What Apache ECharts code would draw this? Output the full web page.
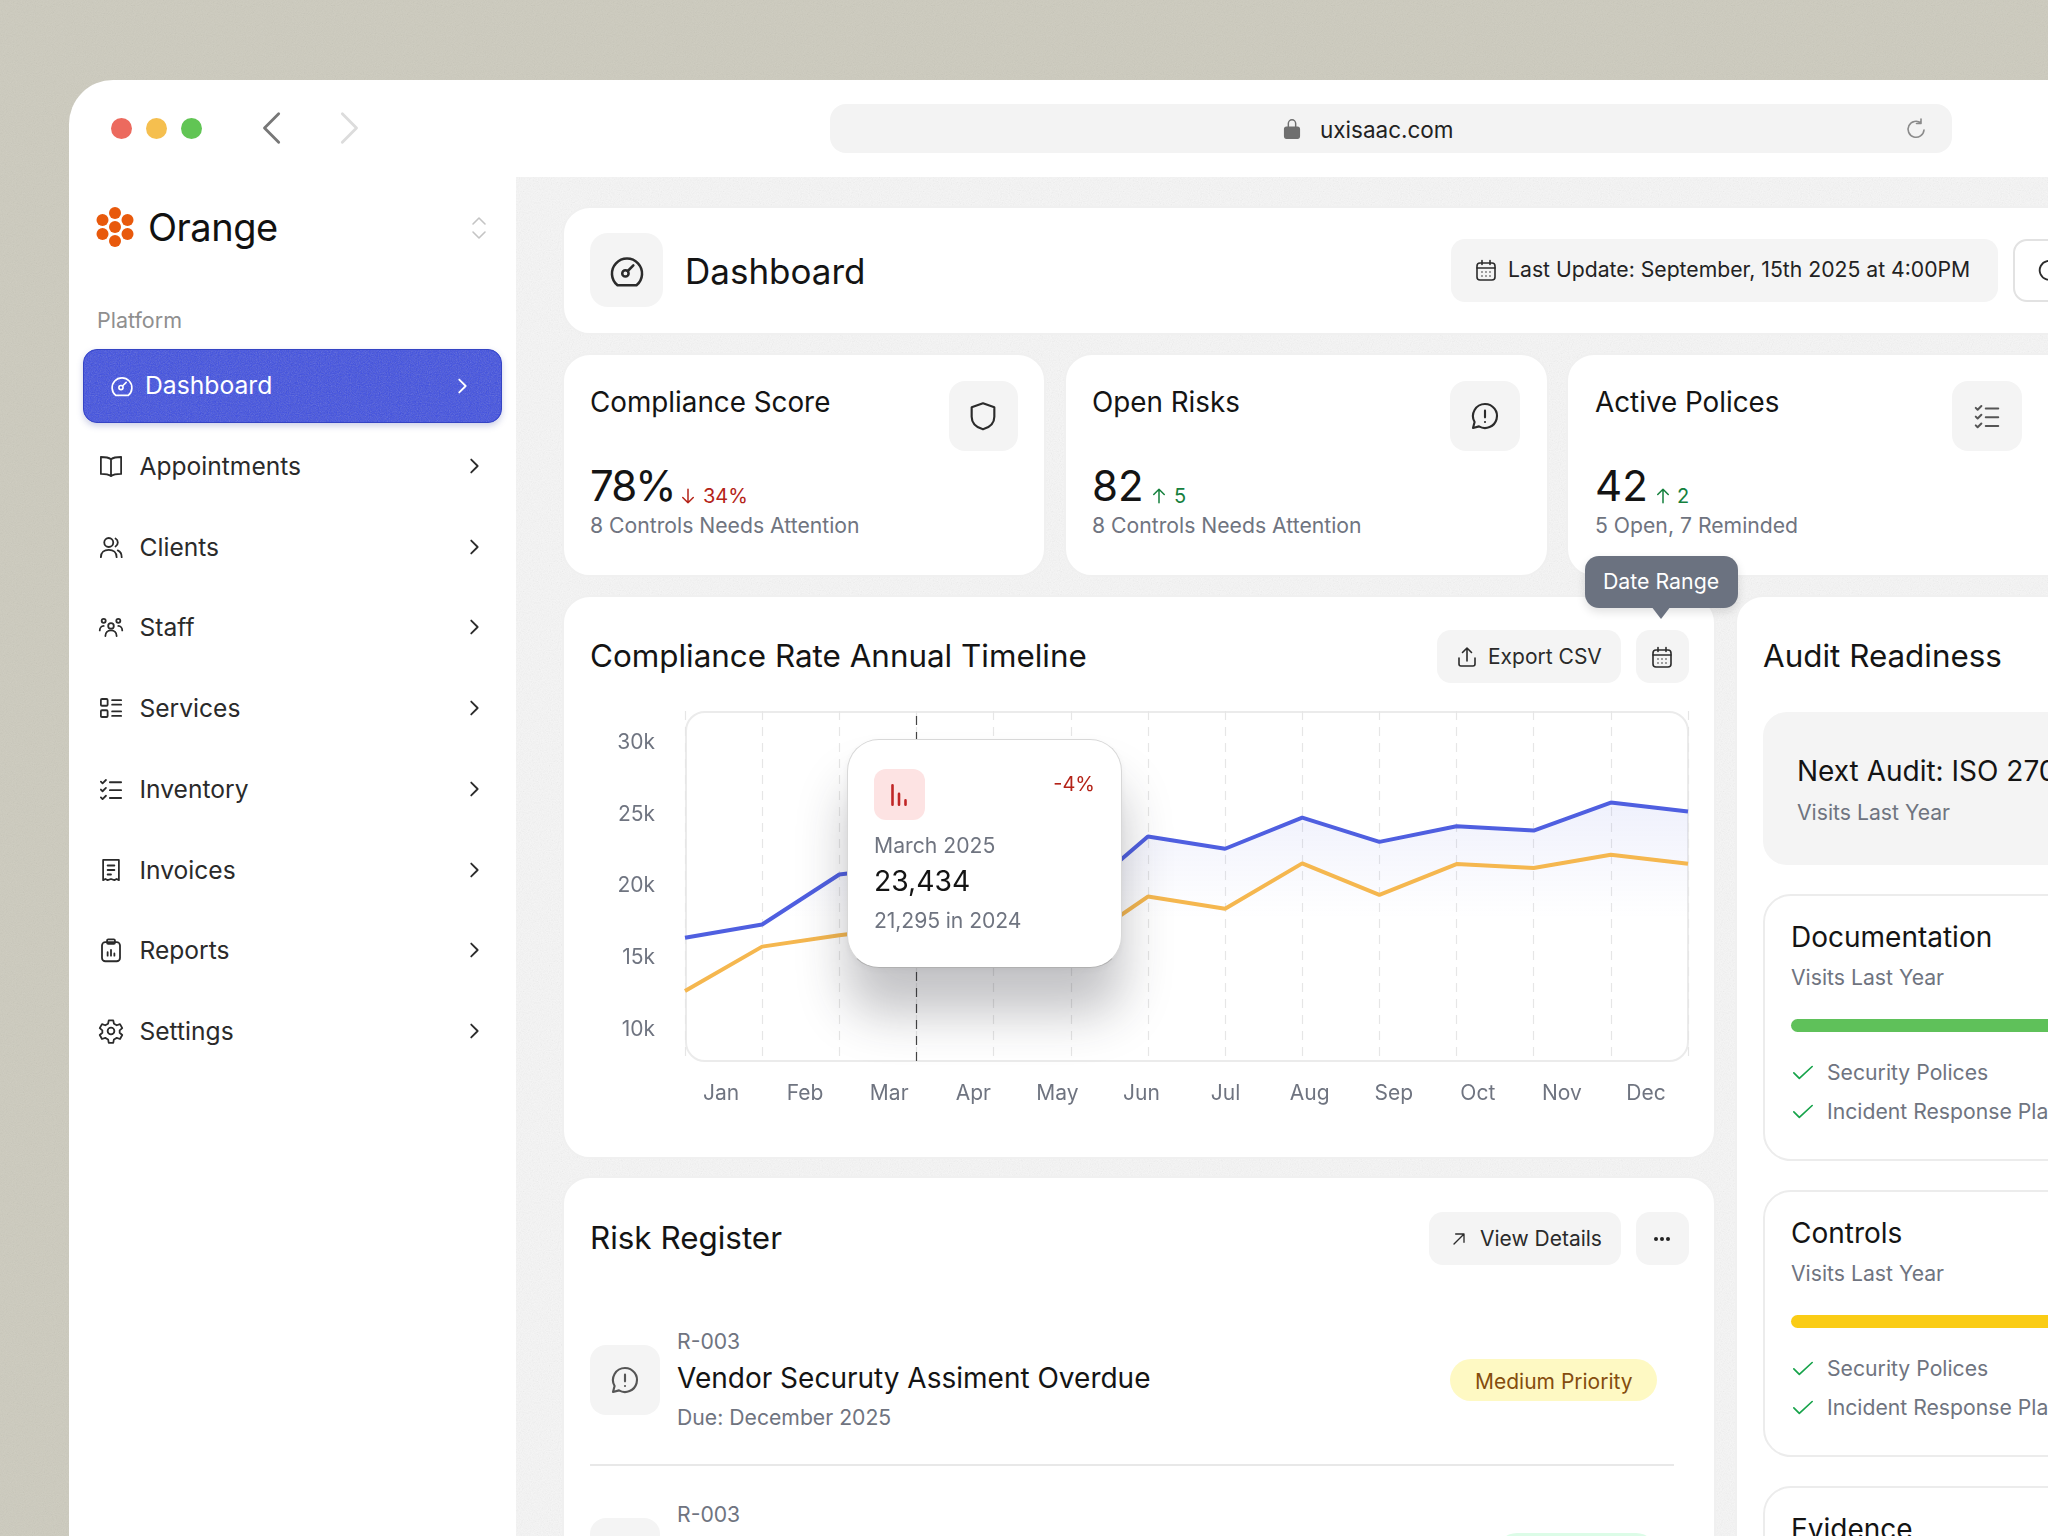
<!DOCTYPE html>
<html>
<head>
<title>Dashboard</title>
<meta charset="UTF-8">
<script src="https://cdn.jsdelivr.net/npm/echarts@6/dist/echarts.min.js"></script>
<style>
html,body{margin:0;padding:0;width:2048px;height:1536px;overflow:hidden;background:#cdcbbe;font-family:Inter,"Noto Sans",sans-serif;color:#141414}
#page{position:absolute;left:0;top:0;width:2048px;height:1536px;overflow:hidden}
.box{position:absolute;box-sizing:border-box}
.t{position:absolute;line-height:1;white-space:nowrap;transform:translateY(calc(-50% + 1px))}
.grain::after{content:"";position:absolute;inset:0;border-radius:inherit;pointer-events:none;opacity:.16;
 background-image:url("data:image/svg+xml,%3Csvg xmlns='http://www.w3.org/2000/svg' width='200' height='200'%3E%3Cfilter id='n'%3E%3CfeTurbulence type='fractalNoise' baseFrequency='.9' numOctaves='2'/%3E%3CfeColorMatrix type='saturate' values='0'/%3E%3C/filter%3E%3Crect width='200' height='200' filter='url(%23n)'/%3E%3C/svg%3E")}
.grain.strong::after{opacity:.32}
.card{background:#fff;border:2px solid #f0f0f0;border-radius:28px}
.tile{background:#f4f4f4;border-radius:14px}
.ico{position:absolute;fill:none;stroke:#2b2b2b;stroke-width:1.6;stroke-linecap:round;stroke-linejoin:round;transform:translate(-50%,-50%)}
.menu{font-size:24.6px;color:#2a2a2a}
.sub{font-size:21.2px;color:#6f7480}
.h2{font-size:31.4px;color:#141414}
.h3{font-size:28px;color:#141414}
.btn{font-size:21px;color:#2a2a2a;transform:translateY(-50%)}
#main{position:absolute;left:600px;top:700px;width:1100px;height:420px}
</style>
</head>
<body>
<svg width="0" height="0" style="position:absolute">
 <defs>
  <symbol id="chev" viewBox="0 0 24 24"><path d="M9 5l7 7-7 7"/></symbol>
  <symbol id="gauge" viewBox="0 0 24 24"><path d="M6 21h12a9.5 9.5 0 1 0-12 0z"/><circle cx="11" cy="13.5" r="2"/><path d="M12.5 12l3.5-3.5"/></symbol>
  <symbol id="book" viewBox="0 0 24 24"><path d="M12 6C10 4.5 7 4 3 4v15c4 0 7 .5 9 2 2-1.5 5-2 9-2V4c-4 0-7 .5-9 2zM12 6v15"/></symbol>
  <symbol id="users" viewBox="0 0 24 24"><circle cx="10" cy="8" r="4"/><path d="M3 21c0-4 3-6.5 7-6.5s7 2.5 7 6.5M16 4.5a4 4 0 0 1 0 7M18 15c2 .8 3.5 3 3.5 6"/></symbol>
  <symbol id="staff" viewBox="0 0 24 24"><circle cx="12" cy="11" r="2.5"/><circle cx="5.5" cy="6.5" r="1.8"/><circle cx="18.5" cy="6.5" r="1.8"/><path d="M7 20c0-3 2-5 5-5s5 2 5 5M2 15c0-2 1.5-4 3.5-4M22 15c0-2-1.5-4-3.5-4"/></symbol>
  <symbol id="services" viewBox="0 0 24 24"><rect x="3" y="4" width="6" height="6" rx="1"/><rect x="3" y="14" width="6" height="6" rx="1"/><path d="M13 5h8M13 9h8M13 15h8M13 19h8"/></symbol>
  <symbol id="checks" viewBox="0 0 24 24"><path d="M3 5.5l1.5 1.5L7.5 4M3 12.5l1.5 1.5 3-3M3 19.5l1.5 1.5 3-3M11 6h10M11 13h10M11 20h10"/></symbol>
  <symbol id="invoice" viewBox="0 0 24 24"><path d="M5 3h14v18l-2-1-2 1-3-1-3 1-2-1-2 1zM9 8h6M9 12h6M9 16h3"/></symbol>
  <symbol id="clip" viewBox="0 0 24 24"><rect x="4" y="5" width="16" height="17" rx="3"/><rect x="8.5" y="2.5" width="7" height="4" rx="1"/><path d="M9 17v-3M12 17v-5M15 17v-2"/></symbol>
  <symbol id="gear" viewBox="0 0 24 24"><circle cx="12" cy="12" r="3"/><path d="M10 2.5h4l.6 3 2.5 1.4 2.9-1 2 3.5-2.3 2v2.2l2.3 2-2 3.5-2.9-1-2.5 1.4-.6 3h-4l-.6-3-2.5-1.4-2.9 1-2-3.5 2.3-2v-2.2l-2.3-2 2-3.5 2.9 1 2.5-1.4z"/></symbol>
  <symbol id="cal" viewBox="0 0 24 24"><rect x="3" y="5" width="18" height="17" rx="3"/><path d="M3 10h18M8 2.5v4M16 2.5v4M8 14h.01M12 14h.01M16 14h.01M8 18h.01M12 18h.01M16 18h.01"/></symbol>
  <symbol id="shield" viewBox="0 0 24 24"><path d="M12 2.5l8.5 3v7c0 5-3.5 8-8.5 9.5-5-1.5-8.5-4.5-8.5-9.5v-7z"/></symbol>
  <symbol id="msg" viewBox="0 0 24 24"><path d="M12 3a9 9 0 1 1-4.5 16.8L3 21l1.2-4.5A9 9 0 0 1 12 3zM12 8v5M12 16.5h.01"/></symbol>
  <symbol id="upload" viewBox="0 0 24 24"><path d="M4 13v6a2 2 0 0 0 2 2h12a2 2 0 0 0 2-2v-6M12 16V3M7.5 7.5L12 3l4.500 4.5"/></symbol>
  <symbol id="ne" viewBox="0 0 24 24"><path d="M6 18L18 6M8 6h10v10"/></symbol>
  <symbol id="tick" viewBox="0 0 24 24"><path d="M2 13l6 6L22 6"/></symbol>
  <symbol id="reload" viewBox="0 0 24 24"><path d="M20 13a8 8 0 1 1-3-7M17 2v4.5h-4.5"/></symbol>
  <symbol id="bars" viewBox="0 0 24 24"><path d="M6 3v18M12 11v10M18 17v4"/></symbol>
 </defs>
</svg>

<div id="page">
 <div class="box grain" style="left:0;top:0;width:2048px;height:1536px"></div>
 <!-- browser window -->
 <div class="box" style="left:69px;top:80px;width:2100px;height:1600px;background:#fff;border-radius:44px 0 0 0"></div>
 <div class="box grain" style="left:516px;top:177px;width:1560px;height:1400px;background:#f6f6f6"></div>

 <div class="box" style="left:111px;top:118px;width:21px;height:21px;border-radius:50%;background:#ec6a5e"></div>
 <div class="box" style="left:146px;top:118px;width:21px;height:21px;border-radius:50%;background:#f5bf4f"></div>
 <div class="box" style="left:181px;top:118px;width:21px;height:21px;border-radius:50%;background:#61c554"></div>
 <svg class="ico" style="left:273px;top:128px;stroke:#777;stroke-width:2" width="34" height="34" viewBox="0 0 24 24"><path d="M16 2L6 12l10 10"/></svg>
 <svg class="ico" style="left:348px;top:128px;stroke:#dcdcdc;stroke-width:2" width="34" height="34" viewBox="0 0 24 24"><path d="M8 2l10 10L8 22"/></svg>
 <div class="box" style="left:830px;top:104px;width:1122px;height:49px;background:#f3f3f3;border-radius:16px"></div>
 <svg class="ico" style="left:1292px;top:129px;stroke:#6f6f6f;fill:#6f6f6f" width="22" height="22" viewBox="0 0 24 24"><rect x="4" y="10" width="16" height="12" rx="2"/><path fill="none" d="M8 10V6a4 4 0 0 1 8 0v4"/></svg>
 <div class="t" style="left:1320px;top:129px;font-size:22.5px;color:#222">uxisaac.com</div>
 <svg class="ico" style="left:1916px;top:129px;stroke:#8a8a8a" width="24" height="24"><use href="#reload"/></svg>

 <!-- sidebar -->
 <svg class="ico" style="left:115px;top:227px;stroke:none;fill:#e8590c" width="42" height="42" viewBox="-21 -21 42 42"><circle r="6"/><circle cy="-14" r="6"/><circle cy="14" r="6"/><circle cx="-12.500" cy="-7" r="6"/><circle cx="12.500" cy="-7" r="6"/><circle cx="-12.500" cy="7" r="6"/><circle cx="12.500" cy="7" r="6"/></svg>
 <div class="t" style="left:148px;top:226px;font-size:38px;letter-spacing:-.5px;color:#111">Orange</div>
 <svg class="ico" style="left:479px;top:228px;stroke:#c4c4c4" width="24" height="26" viewBox="0 0 24 26"><path d="M6 9l6-6 6 6M6 17l6 6 6-6"/></svg>
 <div class="t" style="left:97px;top:320px;font-size:21.5px;color:#8f8f8f">Platform</div>
 <div class="box grain strong" style="left:83px;top:349px;width:419px;height:74px;background:#3d4de2;border:1px solid #3544c4;border-radius:14px;box-shadow:0 3px 6px rgba(60,70,160,.25)"></div>
 <svg class="ico" style="left:122px;top:386px;stroke:#fff" width="25" height="25"><use href="#gauge"/></svg>
 <div class="t" style="left:145px;top:384px;font-size:24.7px;color:#fff">Dashboard</div>
 <svg class="ico" style="left:462px;top:386px;stroke:#fff;stroke-width:2" width="22" height="22"><use href="#chev"/></svg>
 <div id="menuList"></div>

 <!-- header -->
 <div class="box card" style="left:562px;top:206px;width:1600px;height:129px"></div>
 <div class="box tile" style="left:590px;top:233px;width:73px;height:74px;border-radius:18px"></div>
 <svg class="ico" style="left:627px;top:271px" width="38" height="38"><use href="#gauge"/></svg>
 <div class="t" style="left:685px;top:270px;font-size:35px;color:#141414">Dashboard</div>
 <div class="box tile" style="left:1451px;top:239px;width:547px;height:63px"></div>
 <svg class="ico" style="left:1486px;top:270px" width="24" height="24"><use href="#cal"/></svg>
 <div class="t" style="left:1508px;top:269px;font-size:21.2px;color:#222">Last Update: September, 15th 2025 at 4:00PM</div>
 <div class="box" style="left:2013px;top:239px;width:100px;height:63px;background:#fff;border:2px solid #e2e2e2;border-radius:14px"></div>
 <svg class="ico" style="left:2049px;top:270px" width="28" height="28"><use href="#reload"/></svg>

 <!-- kpi cards -->
 <div class="box card" style="left:562px;top:353px;width:484px;height:224px"></div>
 <div class="box card" style="left:1064px;top:353px;width:485px;height:224px"></div>
 <div class="box card" style="left:1566px;top:353px;width:560px;height:224px"></div>
 <div class="t" style="left:590px;top:402px;font-size:27.8px">Compliance Score</div>
 <div class="t" style="left:1092px;top:402px;font-size:27.8px">Open Risks</div>
 <div class="t" style="left:1595px;top:402px;font-size:27.8px">Active Polices</div>
 <div class="box tile" style="left:949px;top:381px;width:69px;height:70px;border-radius:16px"></div>
 <div class="box tile" style="left:1450px;top:381px;width:70px;height:70px;border-radius:16px"></div>
 <div class="box tile" style="left:1952px;top:381px;width:70px;height:70px;border-radius:16px"></div>
 <svg class="ico" style="left:983px;top:416px" width="32" height="32"><use href="#shield"/></svg>
 <svg class="ico" style="left:1485px;top:416px" width="32" height="32"><use href="#msg"/></svg>
 <svg class="ico" style="left:1987px;top:416px;stroke:#555" width="30" height="30"><use href="#checks"/></svg>
 <div class="t" style="left:590px;top:485px;font-size:42px;letter-spacing:-2px">78%</div>
 <div class="t" style="left:1092px;top:485px;font-size:42px">82</div>
 <div class="t" style="left:1595px;top:485px;font-size:42px">42</div>
 <svg class="ico" style="left:688px;top:496px;stroke:#b42318;stroke-width:2" width="18" height="18" viewBox="0 0 24 24"><path d="M12 3v18M5 14l7 7 7-7"/></svg>
 <div class="t" style="left:703px;top:495px;font-size:20px;color:#b42318">34%</div>
 <svg class="ico" style="left:1159px;top:496px;stroke:#15803d;stroke-width:2" width="18" height="18" viewBox="0 0 24 24"><path d="M12 21V3M5 10l7-7 7 7"/></svg>
 <div class="t" style="left:1174px;top:495px;font-size:20px;color:#15803d">5</div>
 <svg class="ico" style="left:1663px;top:496px;stroke:#15803d;stroke-width:2" width="18" height="18" viewBox="0 0 24 24"><path d="M12 21V3M5 10l7-7 7 7"/></svg>
 <div class="t" style="left:1677px;top:495px;font-size:20px;color:#15803d">2</div>
 <div class="t sub" style="left:590px;top:525px">8 Controls Needs Attention</div>
 <div class="t sub" style="left:1092px;top:525px">8 Controls Needs Attention</div>
 <div class="t sub" style="left:1595px;top:525px">5 Open, 7 Reminded</div>

 <!-- timeline card -->
 <div class="box card" style="left:562px;top:595px;width:1154px;height:564px"></div>
 <div class="t h2" style="left:590px;top:656px">Compliance Rate Annual Timeline</div>
 <div class="box tile" style="left:1437px;top:630px;width:184px;height:53px"></div>
 <svg class="ico" style="left:1467px;top:657px" width="24" height="24"><use href="#upload"/></svg>
 <div class="t btn" style="left:1488px;top:656px">Export CSV</div>
 <div class="box tile" style="left:1636px;top:630px;width:53px;height:53px"></div>
 <svg class="ico" style="left:1662px;top:657px" width="24" height="24"><use href="#cal"/></svg>
 <div class="box" style="left:685px;top:711px;width:1004px;height:351px;border:2px solid #ebebeb;border-radius:20px"></div>
 <div id="main"></div>

 <!-- hover card -->
 <div class="box" style="left:847px;top:739px;width:275px;height:229px;background:#fff;border:1px solid #d8d8d8;border-bottom-color:#b0b0b0;border-radius:32px;box-shadow:0 45px 50px rgba(40,40,50,.28),0 2px 8px rgba(0,0,0,.05)"></div>
 <div class="box" style="left:874px;top:769px;width:51px;height:51px;background:#fde3e3;border-radius:12px"></div>
 <svg class="ico" style="left:899px;top:795px;stroke:#c02626;stroke-width:2.4" width="26" height="26"><use href="#bars"/></svg>
 <div class="t" style="right:953px;top:783px;font-size:20px;color:#b42318">-4%</div>
 <div class="t sub" style="left:874px;top:845px">March 2025</div>
 <div class="t" style="left:874px;top:880px;font-size:28.3px;color:#141414">23,434</div>
 <div class="t sub" style="left:874px;top:920px;letter-spacing:-.1px">21,295 in 2024</div>

 <!-- date range hint -->
 <div class="box" style="left:1585px;top:556px;width:153px;height:52px;background:#6b7280;border-radius:14px;box-shadow:0 4px 10px rgba(0,0,0,.12)"></div>
 <div class="box" style="left:1651px;top:606px;width:0;height:0;border-left:10px solid transparent;border-right:10px solid transparent;border-top:13px solid #6b7280"></div>
 <div class="t" style="left:1603px;top:581px;font-size:21.3px;color:#fff">Date Range</div>

 <!-- risk register -->
 <div class="box card" style="left:562px;top:1176px;width:1154px;height:500px"></div>
 <div class="t h2" style="left:590px;top:1238px">Risk Register</div>
 <div class="box tile" style="left:1429px;top:1212px;width:192px;height:53px"></div>
 <svg class="ico" style="left:1459px;top:1239px" width="20" height="20"><use href="#ne"/></svg>
 <div class="t btn" style="left:1480px;top:1238px">View Details</div>
 <div class="box tile" style="left:1636px;top:1212px;width:53px;height:53px"></div>
 <svg class="ico" style="left:1662px;top:1239px;stroke:none;fill:#222" width="24" height="24" viewBox="0 0 24 24"><circle cx="6" cy="12" r="2"/><circle cx="12" cy="12" r="2"/><circle cx="18" cy="12" r="2"/></svg>
 <div class="t sub" style="left:677px;top:1341px">R-003</div>
 <div class="t h3" style="left:677px;top:1377px">Vendor Securuty Assiment Overdue</div>
 <div class="t sub" style="left:677px;top:1417px">Due: December 2025</div>
 <div class="box tile" style="left:590px;top:1345px;width:70px;height:70px;border-radius:16px"></div>
 <svg class="ico" style="left:625px;top:1380px;stroke:#555" width="32" height="32"><use href="#msg"/></svg>
 <div class="box" style="left:1450px;top:1359px;width:207px;height:42px;background:#fef9c3;border-radius:21px"></div>
 <div class="t" style="left:1475px;top:1380px;font-size:21px;color:#854d0e">Medium Priority</div>
 <div class="box" style="left:590px;top:1464px;width:1084px;height:2px;background:#e8e8e8"></div>
 <div class="t sub" style="left:677px;top:1514px">R-003</div>
 <div class="box tile" style="left:590px;top:1518px;width:70px;height:70px;border-radius:16px"></div>
 <div class="box" style="left:1496px;top:1533px;width:161px;height:42px;background:#dcfce7;border-radius:21px"></div>

 <!-- audit readiness -->
 <div class="box card" style="left:1735px;top:595px;width:500px;height:1100px"></div>
 <div class="t h2" style="left:1763px;top:656px">Audit Readiness</div>
 <div class="box tile" style="left:1763px;top:712px;width:400px;height:153px;border-radius:24px"></div>
 <div class="t h3" style="left:1797px;top:770px">Next Audit: ISO 27001</div>
 <div class="t sub" style="left:1797px;top:812px">Visits Last Year</div>
 <div id="auditList"></div>
</div>

<script>
// chart values
var months = ['Jan','Feb','Mar','Apr','May','Jun','Jul','Aug','Sep','Oct','Nov','Dec'];
var pointSlots = ['p0','p1','p2','p3','p4','p5','p6','p7','p8','p9','p10','p11','p12','p13'];
var rate2025 = [16400,17320,20810,21460,19960,18840,23450,22600,24770,23080,24170,23870,25820,25190];
var rate2024 = [12690,15780,16580,17220,16230,15580,19270,18420,21580,19390,21530,21260,22180,21560];
var yTicks = [10000,15000,20000,25000,30000];
var activeSlot = 'p3';

// page texts
var menuItems = [['Appointments','book',466],['Clients','users',547],['Staff','staff',627],['Services','services',708],
	['Inventory','checks',789],['Invoices','invoice',870],['Reports','clip',950],['Settings','gear',1031]];
var auditCards = [['Documentation',894,'#5fc15a'],['Controls',1190,'#facc15'],['Evidence',1486,'']];

var menuHtml = '';
menuItems.forEach(function(m){
	menuHtml += '<svg class="ico" style="left:111px;top:'+m[2]+'px" width="27" height="27"><use href="#'+m[1]+'"/></svg>'
		+ '<div class="t menu" style="left:139.5px;top:'+(m[2]-1)+'px">'+m[0]+'</div>'
		+ '<svg class="ico" style="left:474px;top:'+m[2]+'px;stroke-width:2" width="22" height="22"><use href="#chev"/></svg>';
});
document.getElementById('menuList').innerHTML = menuHtml;

var audit = '';
auditCards.forEach(function(c){
	var y = c[1];
	audit += '<div class="box" style="left:1763px;top:'+y+'px;width:400px;height:267px;border:2px solid #ececec;border-radius:28px;background:#fff"></div>'
		+ '<div class="t h3" style="left:1791px;top:'+(y+42)+'px">'+c[0]+'</div>';
	if(!c[2]) return;
	audit += '<div class="t sub" style="left:1791px;top:'+(y+83)+'px">Visits Last Year</div>'
		+ '<div class="box" style="left:1791px;top:'+(y+125)+'px;width:300px;height:13px;border-radius:7px;background:'+c[2]+'"></div>';
	['Security Polices','Incident Response Plan'].forEach(function(txt,i){
		var iy = y + 178 + i*39;
		audit += '<svg class="ico" style="left:1803px;top:'+iy+'px;stroke:#16a34a;stroke-width:1.8" width="22" height="22"><use href="#tick"/></svg>'
			+ '<div class="t sub" style="left:1827px;top:'+iy+'px">'+txt+'</div>';
	});
});
document.getElementById('auditList').innerHTML = audit;

var myChart = echarts.init(document.getElementById('main'));
myChart.setOption({
	animation: false,
	grid: [
		{left: 85, right: 12, top: 11, bottom: 59},
		{left: 79, right: 12, top: 11, bottom: 59}
	],
	xAxis: [
		{
			type: 'category', gridIndex: 0, data: pointSlots, boundaryGap: false,
			axisLine: {show: false}, axisTick: {show: false}, axisLabel: {show: false},
			splitLine: {show: true, interval: 0, lineStyle: {color: '#e6e6e6', type: [9, 7], width: 1.2}}
		},
		{
			type: 'category', gridIndex: 1, data: months,
			axisLine: {show: false}, axisTick: {show: false},
			axisLabel: {interval: 0, margin: 22, fontSize: 21, fontFamily: 'Inter', color: '#6f7480'}
		}
	],
	yAxis: [
		{
			type: 'value', gridIndex: 0, min: 7810, max: 32200,
			axisLine: {show: false}, axisTick: {show: false}, splitLine: {show: false},
			axisLabel: {
				customValues: yTicks, margin: 30, fontSize: 21, fontFamily: 'Inter', color: '#6f7480',
				formatter: function(v){ return v/1000 + 'k'; }
			}
		},
		{type: 'value', gridIndex: 1, min: 0, max: 1, show: false}
	],
	series: [
		{
			name: '2025', type: 'line', xAxisIndex: 0, yAxisIndex: 0, data: rate2025,
			symbol: 'none', lineStyle: {color: '#4f5fe0', width: 4},
			areaStyle: {
				origin: 'start',
				color: new echarts.graphic.LinearGradient(0, 0, 0, 1, [
					{offset: 0, color: 'rgba(79,95,224,.13)'},
					{offset: .45, color: 'rgba(79,95,224,0)'}
				])
			},
			markLine: {
				silent: true, symbol: 'none', label: {show: false},
				lineStyle: {color: '#444', type: [9, 7], width: 1.2},
				data: [{xAxis: activeSlot}]
			}
		},
		{
			name: '2024', type: 'line', xAxisIndex: 0, yAxisIndex: 0, data: rate2024,
			symbol: 'none', lineStyle: {color: '#f5b74f', width: 4}
		}
	]
});
</script>
</body>
</html>
